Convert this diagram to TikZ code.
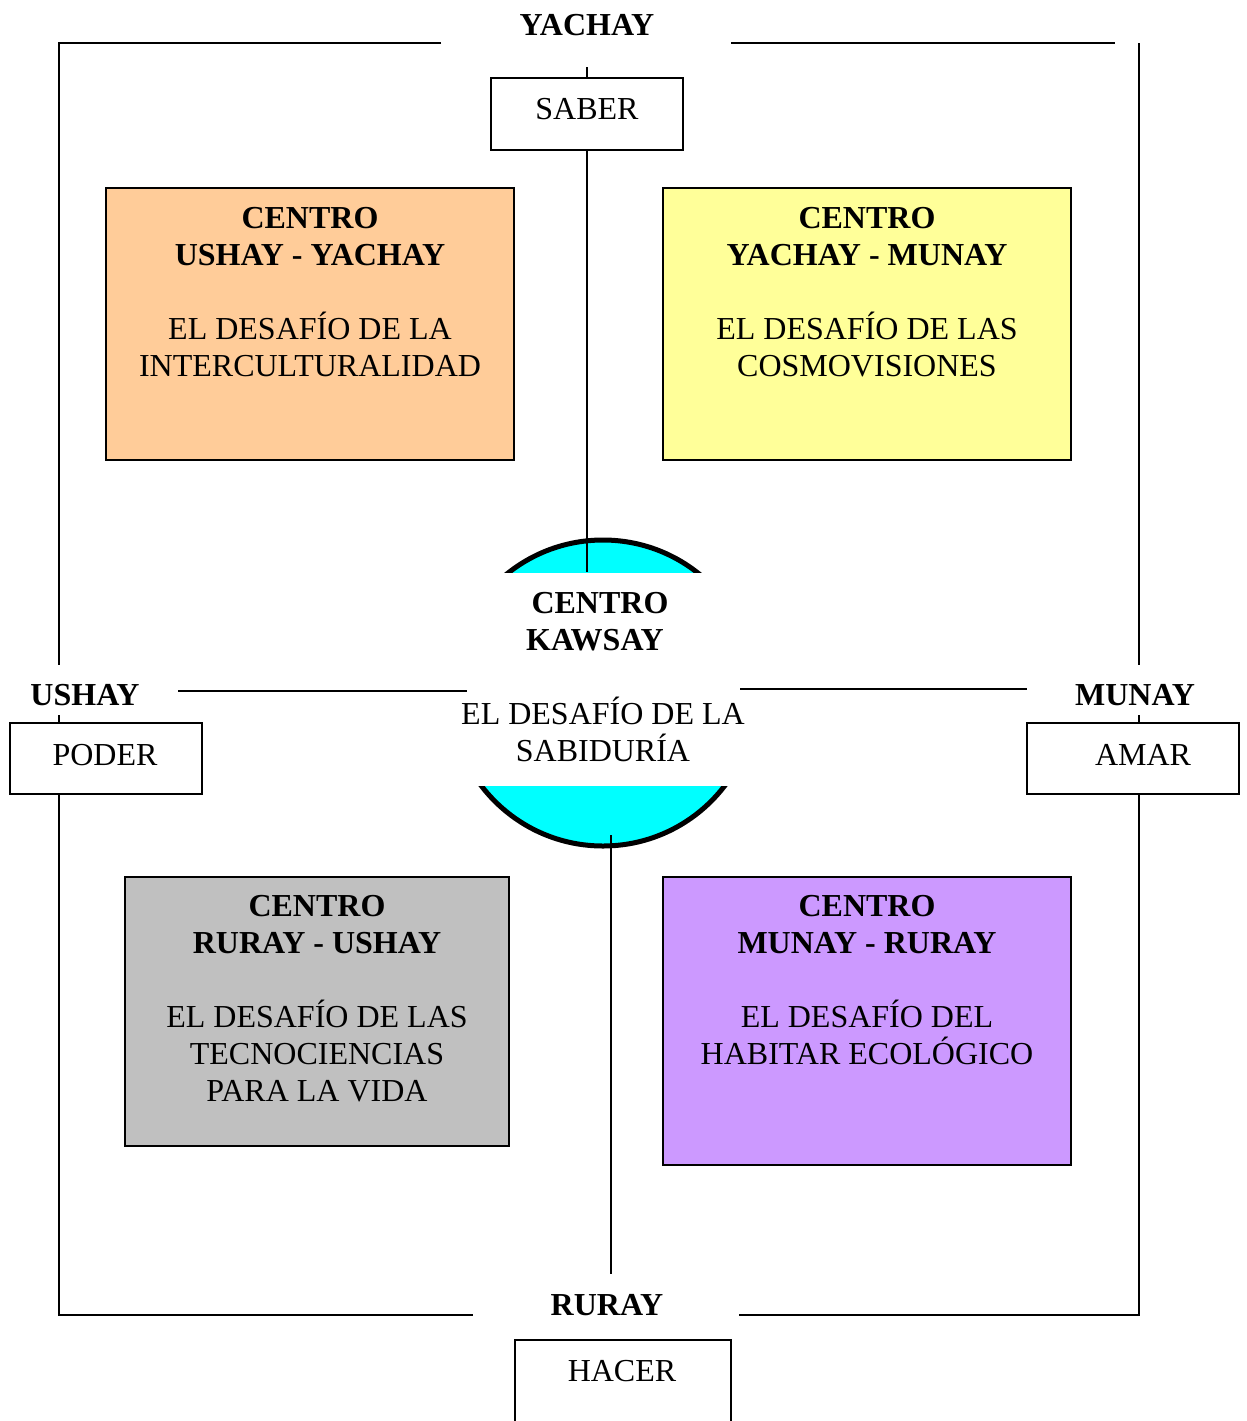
\documentclass[tikz,border=0pt]{standalone}
\usepackage{fontspec}
\setmainfont{Liberation Serif}
\definecolor{corange}{HTML}{FFCC99}
\definecolor{cyellow}{HTML}{FFFF99}
\definecolor{cgray}{HTML}{C0C0C0}
\definecolor{cpurple}{HTML}{CC99FF}
\definecolor{ccyan}{HTML}{00FFFF}
\begin{document}
\begin{tikzpicture}[x=0.5pt,y=-0.5pt,line width=1pt,
  txt/.style={font=\fontsize{16}{18.5}\selectfont, inner sep=0pt, align=center, anchor=base},
  lbl/.style={font=\fontsize{16}{18.5}\selectfont\bfseries, inner sep=0pt, anchor=base},
  wbox/.style={draw, fill=white, inner sep=0pt, outer sep=0pt, line width=1pt},
  cbox/.style={draw, inner sep=0pt, outer sep=0pt, line width=1pt},
  frame/.style={line width=1pt}]
\useasboundingbox (0,0) rectangle (1247,1421);

% central circle
\node[circle, draw, fill=ccyan, line width=2.5pt, minimum size=153pt, inner sep=0pt] (kawsay) at (603,693) {};
\fill[white] (440,573) rectangle (766,786);

% coloured centres
\node[cbox, fill=corange, minimum width=204pt, minimum height=136pt] (uy) at (310,324) {};
\node[cbox, fill=cyellow, minimum width=204pt, minimum height=136pt] (ym) at (867,324) {};
\node[cbox, fill=cgray, minimum width=192pt, minimum height=134.5pt] (ru) at (317,1011.5) {};
\node[cbox, fill=cpurple, minimum width=204pt, minimum height=144pt] (mr) at (867,1021) {};

% texts (anchor base = baseline of the last line)
\node[txt] (uyt) at (310,376) {\textbf{CENTRO}\\\textbf{USHAY - YACHAY}\\[18.5pt]EL DESAFÍO DE LA\\INTERCULTURALIDAD};
\node[txt] (ymt) at (867,376) {\textbf{CENTRO}\\\textbf{YACHAY - MUNAY}\\[18.5pt]EL DESAFÍO DE LAS\\COSMOVISIONES};
\node[txt] (rut) at (317,1101) {\textbf{CENTRO}\\\textbf{RURAY - USHAY}\\[18.5pt]EL DESAFÍO DE LAS\\TECNOCIENCIAS\\PARA LA VIDA};
\node[txt] (mrt) at (867,1064) {\textbf{CENTRO}\\\textbf{MUNAY - RURAY}\\[18.5pt]EL DESAFÍO DEL\\HABITAR ECOLÓGICO};

\node[txt] (kt) at (603,761) {\textbf{CENTRO}\kern3pt\\\textbf{KAWSAY}\kern8pt\\[18.5pt]EL DESAFÍO DE LA\\SABIDURÍA};

% direction boxes
\node[wbox, minimum width=96pt, minimum height=36pt] (saber) at (587,114) {};
\node[txt] at (587,119) {SABER};
\node[wbox, minimum width=96pt, minimum height=35.5pt] (poder) at (106,758.5) {};
\node[txt] at (105,765) {PODER};
\node[wbox, minimum width=106pt, minimum height=35.5pt] (amar) at (1133,758.5) {};
\node[txt] at (1143,765) {AMAR};
\node[wbox, minimum width=108pt, minimum height=50pt] (hacer) at (623,1390) {};
\node[txt] at (622,1381) {HACER};

% labels
\node[lbl] (yachay) at (587,35) {YACHAY};
\node[lbl] (ushay) at (85,705) {USHAY};
\node[lbl] (munay) at (1135,705) {MUNAY};
\node[lbl] (ruray) at (607,1315) {RURAY};

% frame
\coordinate (tl) at (59,43);
\coordinate (tr) at (1139,43);
\coordinate (bl) at (59,1315);
\coordinate (br) at (1139,1315);
\draw[frame] (441,43) -- (tl) -- (59,665);
\draw[frame] (731,43) -- (1115,43);
\draw[frame] (tr) -- (1139,665);
\draw[frame] (59,715) -- (59,723);
\draw[frame] (1139,715) -- (1139,723);
\draw[frame] (59,794) -- (bl) -- (473,1315);
\draw[frame] (739,1315) -- (br) -- (1139,794);
\draw[frame] (178,691) -- (467,691);
\draw[frame] (740,689) -- (1027,689);

% axis
\coordinate (stop) at (587,572);
\coordinate (sbot) at (611,835);
\coordinate (send) at (611,1274);
\draw[frame] (587,67) -- (saber.north);
\draw[frame] (saber.south) -- (stop);
\draw[frame] (sbot) -- (send);
\end{tikzpicture}
\end{document}
